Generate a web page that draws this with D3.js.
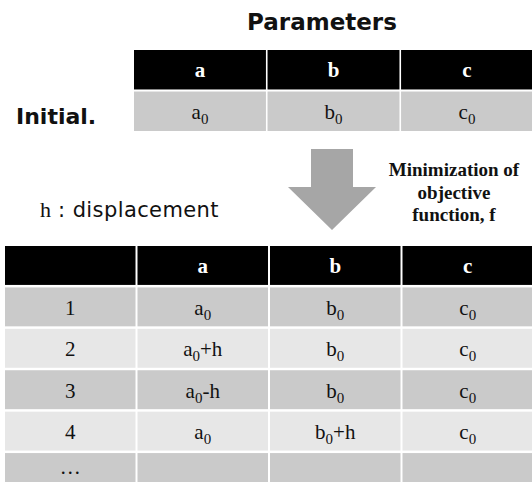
<!DOCTYPE html>
<html>
<head>
<meta charset="utf-8">
<script src="https://cdn.jsdelivr.net/npm/d3@7"></script>
<style>
  html, body { margin: 0; padding: 0; background: #fff; }
  svg { display: block; }
</style>
</head>
<body>
<svg id="chart" width="532" height="482"></svg>
<script>
// ---- data ----
const params = ["a", "b", "c"];
const initialValues = ["a_0", "b_0", "c_0"];
const stepLabels = ["1", "2", "3", "4", "…"];
const colA = ["a_0", "a_0+h", "a_0-h", "a_0", ""];
const colB = ["b_0", "b_0", "b_0", "b_0+h", ""];
const colC = ["c_0", "c_0", "c_0", "c_0", ""];
const titleText = "Parameters";
const initialLabel = "Initial.";
const noteSymbol = "h";
const noteText = " : displacement";
const arrowCaption = ["Minimization of", "objective", "function, f"];

// ---- styles ----
const sansBold = "'DejaVu Sans', 'Noto Sans', sans-serif";
const sans = "'DejaVu Sans', 'Noto Sans', sans-serif";
const serif = "'Liberation Serif', 'DejaVu Serif', serif";
const headerFill = "#000000";
const darkRow = "#cacaca";
const lightRow = "#e7e7e7";
const arrowFill = "#a6a6a6";
const cellSize = 21, subSize = 15;

const svg = d3.select("#chart");

// write "a_0+h" as base + subscript + suffix
function writeSub(textSel, str) {
  const m = str.match(/^([^_]*)(?:_(\d+))?(.*)$/);
  textSel.append("tspan").text(m[1]);
  if (m[2] !== undefined) {
    textSel.append("tspan").attr("dy", 5).attr("font-size", subSize).text(m[2]);
    if (m[3]) textSel.append("tspan").attr("dy", -5).text(m[3]);
  } else if (m[3]) {
    textSel.append("tspan").text(m[3]);
  }
}

// ---- top table ----
const xTop = d3.scaleBand().domain(params).range([134, 533]).paddingInner(0.012);
const yTop = d3.scaleBand().domain(["head", "init"]).range([50, 131]).paddingInner(0.05);

svg.append("text")
  .attr("x", 322).attr("y", 30)
  .attr("text-anchor", "middle")
  .attr("font-family", sansBold).attr("font-weight", 700)
  .attr("font-size", 23).attr("fill", "#111")
  .text(titleText);

svg.append("text")
  .attr("x", 16).attr("y", 124)
  .attr("font-family", sansBold).attr("font-weight", 700)
  .attr("font-size", 22).attr("fill", "#111")
  .text(initialLabel);

const topG = svg.append("g");
topG.selectAll("rect.h").data(params).join("rect")
  .attr("x", d => xTop(d)).attr("y", yTop("head"))
  .attr("width", xTop.bandwidth()).attr("height", yTop.bandwidth())
  .attr("fill", headerFill);
topG.selectAll("text.h").data(params).join("text")
  .attr("x", d => xTop(d) + xTop.bandwidth() / 2)
  .attr("y", yTop("head") + yTop.bandwidth() / 2 + 7.5)
  .attr("text-anchor", "middle")
  .attr("font-family", serif).attr("font-weight", 700).attr("font-size", cellSize)
  .attr("fill", "#fff")
  .text(d => d);
topG.selectAll("rect.v").data(params).join("rect")
  .attr("x", d => xTop(d)).attr("y", yTop("init"))
  .attr("width", xTop.bandwidth()).attr("height", yTop.bandwidth())
  .attr("fill", darkRow);
params.forEach((p, i) => {
  const t = topG.append("text")
    .attr("x", xTop(p) + xTop.bandwidth() / 2)
    .attr("y", yTop("init") + yTop.bandwidth() / 2 + 8)
    .attr("text-anchor", "middle")
    .attr("font-family", serif).attr("font-size", cellSize).attr("fill", "#111");
  writeSub(t, initialValues[i]);
});

// ---- arrow ----
const arrow = { cx: 332, top: 149, neck: 187, tip: 230, shaftHalf: 21, headHalf: 44 };
svg.append("path")
  .attr("d", d3.line()([
    [arrow.cx - arrow.shaftHalf, arrow.top],
    [arrow.cx + arrow.shaftHalf, arrow.top],
    [arrow.cx + arrow.shaftHalf, arrow.neck],
    [arrow.cx + arrow.headHalf, arrow.neck],
    [arrow.cx, arrow.tip],
    [arrow.cx - arrow.headHalf, arrow.neck],
    [arrow.cx - arrow.shaftHalf, arrow.neck]
  ]) + "Z")
  .attr("fill", arrowFill);

const cap = svg.append("text")
  .attr("text-anchor", "middle")
  .attr("font-family", serif).attr("font-weight", 700).attr("font-size", 19)
  .attr("fill", "#111");
arrowCaption.forEach((line, i) => {
  cap.append("tspan").attr("x", 454).attr("y", 176 + i * 22.5).text(line);
});

// note
const note = svg.append("text").attr("x", 40).attr("y", 217).attr("font-size", 21).attr("fill", "#111");
note.append("tspan").attr("font-family", serif).attr("font-size", 22).text(noteSymbol);
note.append("tspan").attr("font-family", sans).attr("letter-spacing", 0.4).text(noteText);

// ---- bottom table ----
const cols = ["", ...params];
const xBot = d3.scaleBand().domain(cols).range([5, 533]).paddingInner(0.015);
const rowKeys = ["head", ...stepLabels];
const yBot = d3.scaleBand().domain(rowKeys).range([246, 492]).paddingInner(0.06);

const botG = svg.append("g");
botG.selectAll("rect.h").data(cols).join("rect")
  .attr("x", d => xBot(d)).attr("y", yBot("head"))
  .attr("width", xBot.bandwidth()).attr("height", yBot.bandwidth())
  .attr("fill", headerFill);
botG.selectAll("text.h").data(params).join("text")
  .attr("x", d => xBot(d) + xBot.bandwidth() / 2)
  .attr("y", yBot("head") + yBot.bandwidth() / 2 + 7.5)
  .attr("text-anchor", "middle")
  .attr("font-family", serif).attr("font-weight", 700).attr("font-size", cellSize)
  .attr("fill", "#fff")
  .text(d => d);

const columns = [stepLabels, colA, colB, colC];
stepLabels.forEach((label, r) => {
  const fill = r % 2 === 0 ? darkRow : lightRow;
  // the last (truncated) row holds an ellipsis, which sits a little higher
  const offset = label === "…" ? 1 : 8;
  cols.forEach((c, ci) => {
    botG.append("rect")
      .attr("x", xBot(c)).attr("y", yBot(label))
      .attr("width", xBot.bandwidth()).attr("height", yBot.bandwidth())
      .attr("fill", fill);
    const val = columns[ci][r];
    if (val) {
      const t = botG.append("text")
        .attr("x", xBot(c) + xBot.bandwidth() / 2)
        .attr("y", yBot(label) + yBot.bandwidth() / 2 + offset)
        .attr("text-anchor", "middle")
        .attr("font-family", serif).attr("font-size", cellSize).attr("fill", "#111");
      writeSub(t, val);
    }
  });
});
</script>
</body>
</html>
